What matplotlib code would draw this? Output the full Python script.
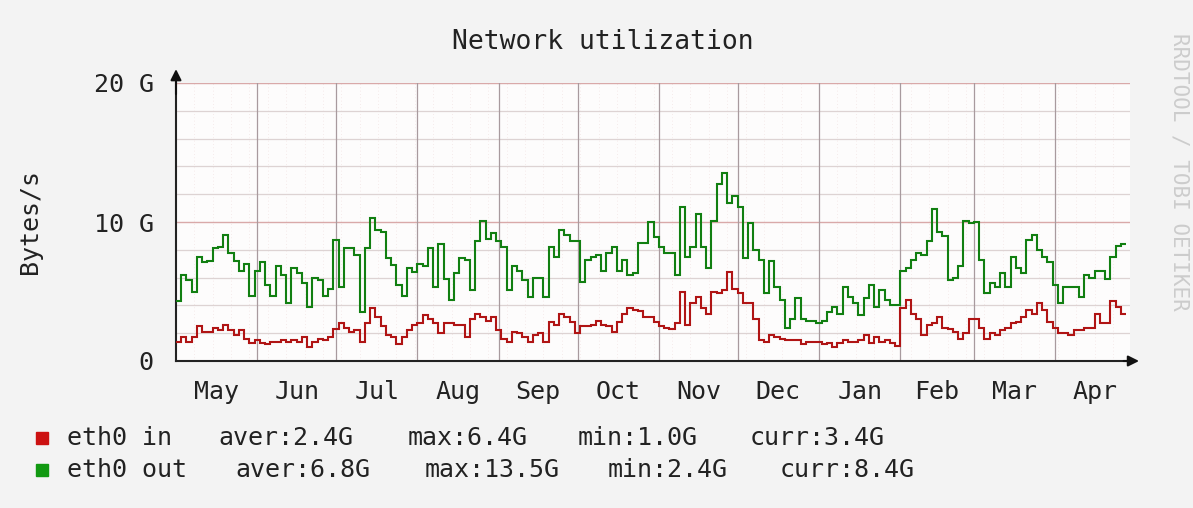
import matplotlib
matplotlib.use("Agg")
import matplotlib.pyplot as plt
import numpy as np

plt.rcParams['font.family'] = 'DejaVu Sans Mono'

# two-day samples, Bytes/s in G
eth0_in = [1.4, 1.7, 1.4, 1.7, 2.5, 2.1, 2.1, 2.4, 2.2, 2.6, 2.2, 1.9, 2.2, 1.6, 1.3, 1.5, 1.3, 1.2, 1.4, 1.4,
           1.5, 1.4, 1.5, 1.4, 1.7, 1.0, 1.4, 1.6, 1.5, 1.7,
           2.3, 2.7, 2.4, 2.1, 2.2, 1.4, 2.7, 3.8, 3.2, 2.5, 1.9, 1.7, 1.2, 1.7, 2.2, 2.6, 2.7, 3.3, 3.0, 2.7,
           2.0, 2.7, 2.7, 2.6, 2.6, 1.7, 3.0, 3.4, 3.2, 2.9,
           3.2, 2.2, 1.6, 1.4, 2.1, 2.0, 1.7, 1.4, 1.9, 2.0, 1.4, 2.8, 2.6, 3.4, 3.2, 2.8, 2.0, 2.5, 2.5, 2.6,
           2.9, 2.6, 2.5, 2.1, 2.8, 3.4, 3.8, 3.7, 3.6, 3.2, 3.2,
           2.8, 2.5, 2.4, 2.3, 2.7, 5.0, 2.6, 4.2, 4.6, 3.8, 3.4, 5.0, 4.9, 5.1, 6.4, 5.2, 4.9, 4.2, 4.2, 3.0,
           1.5, 1.4, 1.9, 1.7, 1.6, 1.5, 1.5, 1.5, 1.2, 1.4, 1.4,
           1.4, 1.2, 1.3, 1.0, 1.3, 1.5, 1.4, 1.4, 1.5, 1.9, 1.3, 1.7, 1.4, 1.5, 1.3, 1.1,
           3.8, 4.4, 3.4, 3.0, 1.9, 2.6, 2.7, 3.2, 2.4, 2.3, 2.1, 1.6, 2.0, 3.0,
           3.0, 2.4, 1.6, 2.0, 1.9, 2.2, 2.4, 2.7, 2.8, 3.2, 3.7, 3.4, 4.2, 3.7, 2.8, 2.4, 2.0, 2.0, 1.9, 2.2,
           2.2, 2.4, 2.4, 3.4, 2.7, 2.7, 4.3, 3.9, 3.4]

eth0_out = [4.3, 6.2, 5.8, 5.0, 7.5, 7.1, 7.2, 8.1, 8.2, 9.1, 7.8, 7.2, 6.5, 7.0, 4.7, 6.5, 7.1, 5.5, 4.7, 6.8,
            6.2, 4.2, 6.7, 6.3, 5.6, 3.9, 6.0, 5.8, 4.7, 5.2, 8.7,
            5.3, 8.1, 8.1, 7.6, 3.5, 8.1, 10.3, 9.4, 9.3, 7.4, 6.9, 5.5, 4.7, 6.7, 6.4, 7.0, 6.8, 8.1, 5.3, 8.4,
            5.9, 4.4, 6.3, 7.4, 7.3, 5.1, 8.6, 10.1, 8.8, 9.2,
            8.6, 8.2, 5.1, 6.8, 6.5, 5.8, 4.6, 6.0, 6.0, 4.6, 8.2, 7.5, 9.4, 9.1, 8.6, 8.6, 5.7, 7.3, 7.5, 7.6,
            6.5, 7.8, 8.2, 6.5, 7.3, 6.2, 6.3, 8.5, 8.5, 10.0,
            8.9, 8.2, 7.8, 7.8, 6.2, 11.1, 7.5, 8.2, 10.6, 8.2, 6.7, 10.1, 12.7, 13.5, 11.4, 11.9, 11.1, 7.4, 9.9, 8.0,
            7.3, 4.9, 7.2, 5.3, 4.4, 2.4, 3.0, 4.5, 3.0, 2.9, 2.9,
            2.7, 2.9, 3.5, 3.9, 3.4, 5.3, 4.6, 4.2, 3.3, 4.5, 5.5, 3.9, 5.1, 4.4, 4.0, 4.0, 6.5, 6.7, 7.3, 7.8,
            7.6, 8.6, 10.9, 9.3, 9.0, 5.8, 6.0, 6.8, 10.1, 9.9,
            10.0, 7.3, 4.9, 5.6, 5.3, 6.3, 5.3, 7.5, 6.7, 6.3, 8.7, 9.1, 8.0, 7.5, 7.1, 5.5, 4.2, 5.3, 5.3, 5.3,
            4.6, 6.2, 6.0, 6.5, 6.5, 5.9, 7.5, 8.3, 8.4]

months = ['May', 'Jun', 'Jul', 'Aug', 'Sep', 'Oct', 'Nov', 'Dec', 'Jan', 'Feb', 'Mar', 'Apr']
month_days = [31, 30, 31, 31, 30, 31, 30, 31, 31, 28, 31, 30]

legend_in = ['eth0 in', 'aver:2.4G', 'max:6.4G', 'min:1.0G', 'curr:3.4G']
legend_out = ['eth0 out', 'aver:6.8G', 'max:13.5G', 'min:2.4G', 'curr:8.4G']

W, H = 1193, 508
fig = plt.figure(figsize=(W / 100, H / 100), dpi=100, facecolor='#f3f3f3')
ax = fig.add_axes([176 / W, 1 - 361 / H, (1130 - 176) / W, (361 - 83) / H])
ax.set_facecolor('#fdfcfc')

edges = np.arange(len(eth0_in) + 1) * 2
bounds = np.concatenate([[0], np.cumsum(month_days)])
mids = (bounds[:-1] + bounds[1:]) / 2

# grid
for d in range(7, 364, 7):
    ax.axvline(d, color='#f3e4e4', lw=0.6, ls=(0, (1, 3)), zorder=0)
for v in range(2, 20, 2):
    if v % 10:
        ax.axhline(v, color='#ddd3d3', lw=0.9, zorder=1)
for v in [10, 20]:
    ax.axhline(v, color='#d9a9a9', lw=1.0, zorder=1)
for b in bounds[1:-1]:
    ax.axvline(b, color='#a89a9e', lw=0.9, zorder=1)

ax.stairs(eth0_out, edges, baseline=None, color='#117f11', lw=1.5, zorder=3)
ax.stairs(eth0_in, edges, baseline=None, color='#b01414', lw=1.5, zorder=3)

ax.set_xlim(0, 363.5)
ax.set_ylim(0, 20)
for s in ['top', 'right']:
    ax.spines[s].set_visible(False)
for s in ['left', 'bottom']:
    ax.spines[s].set_color('#222222')
    ax.spines[s].set_linewidth(1.5)
ax.annotate('', xy=(0, 21.2), xytext=(0, 19), annotation_clip=False,
            arrowprops=dict(arrowstyle='-|>', color='#111111', lw=1.5, mutation_scale=16))
ax.annotate('', xy=(368, 0), xytext=(360, 0), annotation_clip=False,
            arrowprops=dict(arrowstyle='-|>', color='#111111', lw=1.5, mutation_scale=16))

ax.set_xticks(mids, months)
ax.set_yticks([0, 10, 20], ['0', '10 G', '20 G'])
ax.tick_params(axis='x', length=0, pad=14, labelsize=18, colors='#222222')
ax.tick_params(axis='y', length=0, pad=16, labelsize=18, colors='#222222')

fig.text(603 / W, 1 - 42 / H, 'Network utilization', ha='center', va='center', fontsize=19, color='#222222')
fig.text(30 / W, 1 - 222 / H, 'Bytes/s', ha='center', va='center', rotation=90, fontsize=18, color='#222222')
fig.text(1180 / W, 1 - 172 / H, 'RRDTOOL / TOBI OETIKER', ha='center', va='center', rotation=-90,
         fontsize=15, color='#cccccc')

xs_in = [67, 218, 408, 578, 750]
xs_out = [67, 235, 425, 608, 780]
for y, texts, xs, col in [(438, legend_in, xs_in, '#cc1111'), (470, legend_out, xs_out, '#119911')]:
    fig.patches.append(plt.Rectangle((36 / W, 1 - (y + 6) / H), 12 / W, 12 / H,
                                     transform=fig.transFigure, color=col))
    for x, t in zip(xs, texts):
        fig.text(x / W, 1 - y / H, t, ha='left', va='center', fontsize=18, color='#222222')

fig.savefig('out.png', dpi=100, facecolor=fig.get_facecolor())
